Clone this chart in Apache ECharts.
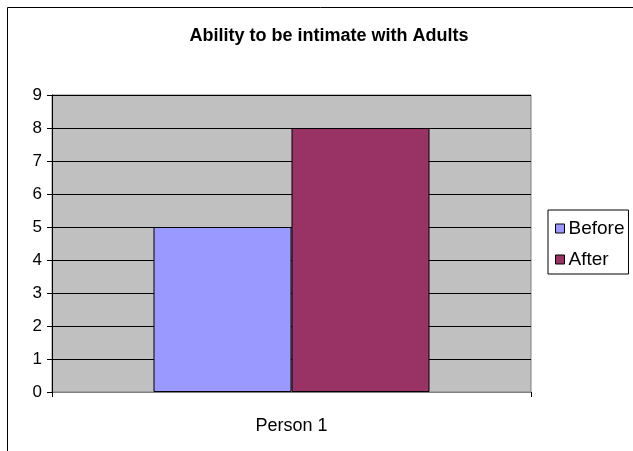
<!DOCTYPE html>
<html><head><meta charset="utf-8">
<script src="https://cdn.jsdelivr.net/npm/echarts@6/dist/echarts.min.js"></script>
<style>html,body{margin:0;padding:0;background:#fff}#c{width:633px;height:451px}</style>
</head><body><div id="c"></div>
<script>
const categories = ['Person 1'];
const beforeValues = [5];
const afterValues = [8];
const yTicks = [0, 9, 1];

const chart = echarts.init(document.getElementById('c'));
const font = 'Liberation Sans, Arial, sans-serif';
chart.setOption({
  animation: false,
  title: {
    text: 'Ability to be intimate with Adults',
    left: 324, top: 22, textAlign: 'center',
    textStyle: {fontFamily: font, fontSize: 18, fontWeight: 'bold', color: '#000'}
  },
  graphic: [{
    type: 'rect', silent: true, z: -10,
    shape: {x: 7.5, y: 7.5, width: 700, height: 500},
    style: {fill: 'none', stroke: '#000', lineWidth: 1}
  }],
  legend: {
    orient: 'vertical', left: 548, top: 210,
    padding: [9, 4, 5, 7], itemGap: 12,
    itemWidth: 9, itemHeight: 9,
    borderColor: '#000', borderWidth: 1,
    icon: 'rect',
    itemStyle: {borderColor: '#000', borderWidth: 1},
    textStyle: {fontFamily: font, fontSize: 19, color: '#000', lineHeight: 19, padding: [0, 0, 0, -1]},
    data: ['Before', 'After']
  },
  grid: {
    left: 52, right: 102, top: 95, bottom: 59,
    show: true, backgroundColor: '#C0C0C0', borderColor: '#808080', borderWidth: 1
  },
  xAxis: {
    type: 'category', data: categories,
    axisLine: {lineStyle: {color: '#808080'}},
    axisTick: {show: true, length: 5, lineStyle: {color: '#000'}},
    axisLabel: {fontFamily: font, fontSize: 18, color: '#000', margin: 25}
  },
  yAxis: {
    type: 'value', min: yTicks[0], max: yTicks[1], interval: yTicks[2],
    axisLine: {show: true, lineStyle: {color: '#000'}},
    axisTick: {show: true, length: 5, lineStyle: {color: '#000'}},
    axisLabel: {fontFamily: font, fontSize: 17, color: '#000', margin: 10},
    splitLine: {lineStyle: {color: '#000', width: 1}}
  },
  series: [
    {name: 'Before', type: 'bar', data: beforeValues, barWidth: 138, barGap: '0%',
     itemStyle: {color: '#9999FF', borderColor: '#000', borderWidth: 1}},
    {name: 'After', type: 'bar', data: afterValues, barWidth: 138, barGap: '0%',
     itemStyle: {color: '#993366', borderColor: '#000', borderWidth: 1}}
  ]
});
</script></body></html>
